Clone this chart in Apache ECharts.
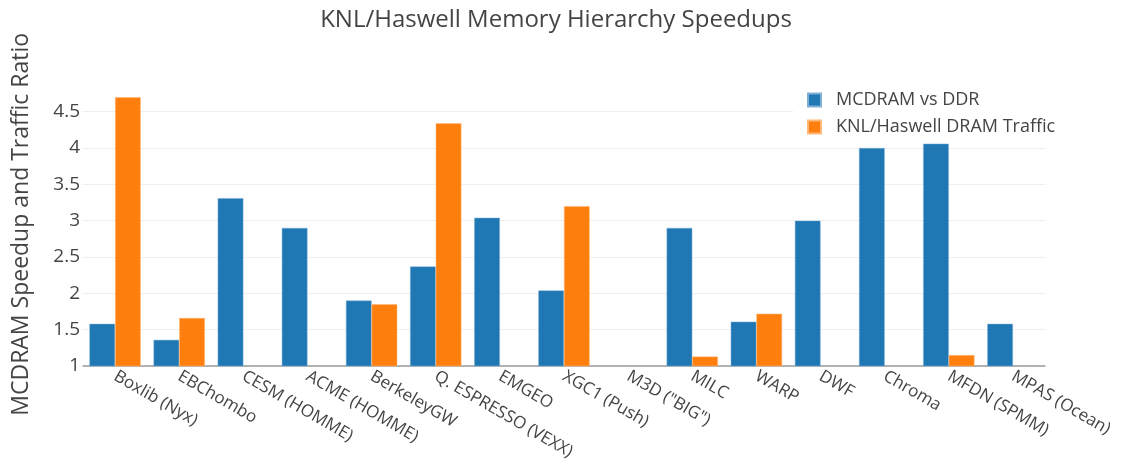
<!DOCTYPE html>
<html>
<head>
<meta charset="utf-8">
<script src="https://cdn.jsdelivr.net/npm/echarts@6/dist/echarts.min.js"></script>
<style>
  html, body { margin: 0; padding: 0; background: #fff; }
  #chart { width: 1122px; height: 474px; }
</style>
</head>
<body>
<div id="chart"></div>
<script>
// apps along the x axis
const categories = [
    'Boxlib (Nyx)', 'EBChombo', 'CESM (HOMME)', 'ACME (HOMME)', 'BerkeleyGW',
    'Q. ESPRESSO (VEXX)', 'EMGEO', 'XGC1 (Push)', 'M3D ("BIG")', 'MILC',
    'WARP', 'DWF', 'Chroma', 'MFDN (SPMM)', 'MPAS (Ocean)'
];

// null = no bar
const mcdramVsDdr = [1.58, 1.36, 3.31, 2.90, 1.90, 2.37, 3.04, 2.04, null, 2.90, 1.61, 3.00, 4.00, 4.06, 1.58];
const dramTraffic = [4.70, 1.66, null, null, 1.85, 4.34, null, 3.20, null, 1.13, 1.72, null, null, 1.15, null];

const yTicks = [1, 1.5, 2, 2.5, 3, 3.5, 4, 4.5];

const font = '"Open Sans", "DejaVu Sans", sans-serif';
const chart = echarts.init(document.getElementById('chart'));

const option = {
    animation: false,
    title: {
        text: 'KNL/Haswell Memory Hierarchy Speedups',
        left: 551,
        textAlign: 'center',
        top: 3,
        textStyle: { fontFamily: font, fontSize: 24, fontWeight: 'normal', color: '#444' }
    },
    legend: {
        orient: 'vertical',
        left: 793,
        top: 86,
        padding: [5, 10, 5, 14],
        itemWidth: 13,
        itemHeight: 13,
        itemGap: 9,
        icon: 'rect',
        backgroundColor: '#fff',
        textStyle: { fontFamily: font, fontSize: 18, color: '#444', lineHeight: 18, padding: [0, 0, 0, 10] },
        data: ['MCDRAM vs DDR', 'KNL/Haswell DRAM Traffic']
    },
    grid: { left: 83, right: 77, top: 82.6, bottom: 108, containLabel: false },
    xAxis: {
        type: 'category',
        data: categories,
        axisLine: { lineStyle: { color: '#999', width: 1.5 } },
        axisTick: { show: false },
        axisLabel: {
            rotate: -30,
            interval: 0,
            margin: 9,
            fontFamily: font,
            fontSize: 17,
            color: '#444'
        }
    },
    yAxis: {
        type: 'value',
        min: 1,
        max: 4.9,
        interval: 0.5,
        name: 'MCDRAM Speedup and Traffic Ratio',
        nameLocation: 'middle',
        nameRotate: 90,
        nameGap: 50,
        nameTextStyle: { fontFamily: font, fontSize: 23, color: '#444' },
        axisLine: { show: false },
        axisTick: { show: false },
        splitLine: { show: false },
        axisLabel: {
            margin: 3,
            fontFamily: font,
            fontSize: 19,
            color: '#444',
            formatter: v => (yTicks.includes(v) ? String(v) : '')
        }
    },
    series: [
        {
            name: 'MCDRAM vs DDR',
            type: 'bar',
            data: mcdramVsDdr,
            barGap: '0%',
            barCategoryGap: '20%',
            itemStyle: { color: '#1f77b4', borderColor: '#7fb0d6', borderWidth: 0.5 },
            // gridlines at the labelled ticks only, kept behind the bars
            markLine: {
                silent: true,
                z: 0,
                symbol: 'none',
                label: { show: false },
                lineStyle: { color: '#eee', width: 1, type: 'solid' },
                data: yTicks.slice(1).map(v => ({ yAxis: v }))
            }
        },
        {
            name: 'KNL/Haswell DRAM Traffic',
            type: 'bar',
            data: dramTraffic,
            barGap: '0%',
            barCategoryGap: '20%',
            itemStyle: { color: '#ff7f0e', borderColor: '#ffb87a', borderWidth: 0.5 }
        }
    ]
};

chart.setOption(option);
</script>
</body>
</html>
